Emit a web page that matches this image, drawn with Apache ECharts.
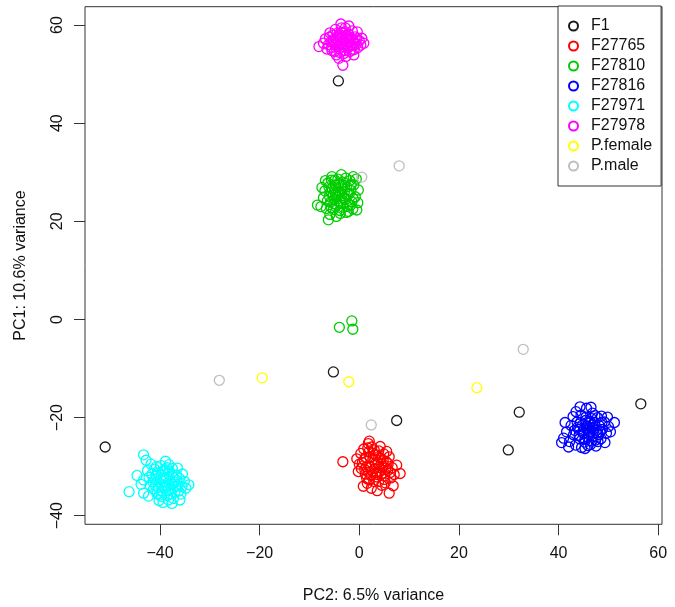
<!DOCTYPE html>
<html>
<head>
<meta charset="utf-8">
<script src="https://cdn.jsdelivr.net/npm/echarts@6/dist/echarts.min.js"></script>
<style>
html,body{margin:0;padding:0;background:#fff;}
#chart{width:675px;height:607px;}
</style>
</head>
<body>
<div id="chart"></div>
<script>
// ---- data (PC2 = x, PC1 = y) ----
const groups = ['F1','F27765','F27810','F27816','F27971','F27978','P.female','P.male'];
const xTicks = [-40,-20,0,20,40,60];
const yTicks = [-40,-20,0,20,40,60];
const xTitle = 'PC2: 6.5% variance';
const yTitle = 'PC1: 10.6% variance';

const F1 = [[-4.2,48.6],[-51.0,-26.0],[-5.2,-10.7],[7.5,-20.6],[32.1,-18.9],[29.9,-26.6],[56.5,-17.2]];

const F27765 = [[-3.3,-29.0],[1.8,-25.3],[6.0,-35.4],[8.2,-31.4],[7.5,-29.7],[-0.2,-31.0],[1.5,-32.4],[5.2,-33.3],
[0.3,-27.3],[0.6,-29.2],[0.9,-26.4],[1.1,-30.6],[1.3,-28.1],[1.6,-33.4],[1.9,-27.0],[2.1,-29.9],[2.3,-31.8],
[2.5,-26.0],[2.7,-28.6],[2.9,-33.0],[3.1,-30.4],[3.3,-27.6],[3.5,-32.1],[3.7,-29.2],[3.9,-26.8],[4.1,-31.0],
[4.3,-28.3],[4.5,-33.8],[4.7,-30.0],[4.9,-27.4],[5.1,-31.9],[5.4,-29.0],[5.7,-30.8],[6.0,-28.0],[6.3,-32.3],
[6.6,-30.2],[7.0,-31.6],[0.0,-29.5],[-0.5,-28.4],[2.4,-34.4],[3.6,-34.9],[4.2,-25.9],[2.0,-24.8],[3.0,-26.6],
[5.5,-26.9],[0.8,-34.0],[6.8,-33.9],[1.2,-31.5],[3.4,-31.2],[4.4,-29.5],
[1.0,-28.6],[1.4,-30.0],[1.8,-31.1],[2.2,-28.2],[2.6,-30.9],[2.8,-27.3],[3.2,-29.4],[3.6,-31.6],[3.8,-28.0],
[4.0,-30.2],[4.6,-31.4],[4.8,-28.8],[5.3,-30.3],[5.8,-29.4],[2.0,-32.7],[3.9,-33.0],[1.7,-26.2],[0.4,-30.4],
[6.2,-31.2],[5.0,-32.6]];

const F27810 = [[-8.4,23.3],[-6.2,20.3],[-0.2,26.4],[-0.5,22.3],[-5.5,29.1],[-1.2,29.1],[-7.7,23.0],[-7.2,24.8],
[-6.9,26.2],[-6.6,22.6],[-6.3,27.8],[-6.0,25.1],[-5.8,23.9],[-5.6,28.4],[-5.4,26.6],[-5.2,22.4],[-5.0,24.5],
[-4.8,27.4],[-4.7,25.6],[-4.5,23.3],[-4.3,28.6],[-4.2,26.2],[-4.0,24.1],[-3.8,21.6],[-3.7,27.2],[-3.5,25.2],
[-3.3,22.9],[-3.2,28.0],[-3.0,26.0],[-2.8,24.4],[-2.6,21.8],[-2.5,27.0],[-2.3,25.5],[-2.1,23.4],[-1.9,28.3],
[-1.7,26.3],[-1.5,24.0],[-1.3,22.5],[-1.1,27.4],[-0.8,25.0],[-0.6,28.6],[-6.8,28.3],[-5.9,21.4],[-4.6,21.0],
[-2.2,22.0],[-7.5,26.9],[-3.6,29.5],[-0.3,23.8],[-5.3,25.4],[-3.9,25.9],
[-6.4,24.2],[-5.7,26.0],[-5.1,23.6],[-4.9,28.4],[-4.4,25.0],[-4.1,27.6],[-3.6,23.8],[-3.4,26.6],[-3.1,24.8],
[-2.7,28.8],[-2.4,23.0],[-2.0,25.6],[-1.6,27.5],[-1.2,24.6],[-5.6,22.8],[-6.1,27.0],[-3.9,22.2],[-2.9,27.3],
[-4.9,26.0],[-1.8,23.2],
[-1.5,-0.3],[-1.3,-2.0],[-4.0,-1.6]];

const F27816 = [[45.6,-18.1],[51.2,-21.0],[40.6,-25.1],[41.6,-22.9],[44.6,-26.1],[49.3,-25.1],[48.6,-19.7],[46.8,-19.1],
[42.9,-19.8],[41.0,-24.2],[42.2,-24.9],[42.5,-21.6],[43.0,-23.5],[43.4,-25.6],[43.7,-20.9],[44.0,-22.4],[44.2,-24.3],
[44.5,-19.5],[44.8,-21.5],[45.0,-23.2],[45.2,-25.0],[45.4,-20.6],[45.6,-22.2],[45.8,-24.0],[46.0,-21.2],[46.2,-23.0],
[46.4,-25.5],[46.6,-20.2],[46.8,-22.0],[47.0,-23.8],[47.2,-21.0],[47.4,-24.6],[47.6,-22.6],[47.8,-20.0],[48.0,-23.5],
[48.2,-21.7],[48.5,-24.3],[48.8,-22.4],[49.2,-20.9],[49.6,-23.2],[50.0,-21.8],[50.4,-22.9],[43.5,-18.8],[42.0,-26.0],
[45.3,-26.3],[47.5,-25.8],[44.3,-17.8],[41.3,-21.0],[49.8,-19.9],[46.5,-17.9],
[44.4,-21.0],[44.9,-22.8],[45.3,-24.4],[45.7,-21.7],[46.1,-23.5],[46.3,-20.8],[46.7,-24.8],[47.1,-22.3],[47.3,-19.6],
[47.7,-23.1],[44.1,-23.6],[43.8,-22.0],[45.5,-19.9],[46.9,-21.5],[48.3,-22.9],[47.9,-24.9],[45.9,-25.7],[43.2,-22.6],
[48.7,-21.0],[46.0,-22.6]];

const F27971 = [[-43.3,-27.6],[-42.8,-28.7],[-46.2,-35.1],[-43.3,-35.4],[-43.3,-32.7],[-34.2,-33.7],[-37.6,-37.5],[-36.0,-36.8],
[-40.7,-30.0],[-35.6,-34.1],[-38.3,-36.8],[-42.5,-30.8],[-42.0,-33.8],[-41.6,-31.5],[-41.3,-34.6],[-41.0,-32.6],[-40.6,-35.5],
[-40.3,-31.2],[-40.0,-33.4],[-39.8,-29.8],[-39.6,-34.9],[-39.3,-32.1],[-39.0,-30.6],[-38.8,-33.7],[-38.5,-35.9],[-38.3,-31.4],
[-38.0,-32.9],[-37.8,-34.6],[-37.5,-30.4],[-37.2,-33.1],[-37.0,-35.2],[-36.7,-31.7],[-36.4,-33.9],[-36.1,-32.4],[-35.8,-35.6],
[-35.5,-31.5],[-35.1,-33.0],[-34.8,-34.4],[-43.8,-33.6],[-42.3,-36.0],[-40.2,-36.9],[-39.4,-37.3],[-36.5,-30.3],[-41.8,-29.5],
[-44.6,-31.8],[-38.9,-28.9],[-37.3,-36.5],[-40.9,-33.9],[-39.1,-34.4],[-38.2,-29.6],
[-41.4,-33.1],[-40.8,-31.8],[-40.4,-34.2],[-39.9,-32.6],[-39.5,-31.0],[-39.2,-33.9],[-38.7,-32.4],[-38.4,-34.8],
[-38.1,-31.0],[-37.7,-33.6],[-37.4,-32.0],[-36.9,-34.0],[-36.6,-32.8],[-40.1,-35.8],[-38.6,-30.2],[-42.2,-32.2],
[-41.1,-30.5],[-37.9,-35.5],[-36.3,-35.0],[-39.7,-36.1]];

const F27978 = [[-8.1,55.6],[-3.7,60.2],[-3.3,51.8],[0.5,57.3],[-6.8,57.2],[-6.2,56.0],[-5.9,58.4],[-5.5,54.8],[-5.2,57.0],
[-4.9,55.9],[-4.8,59.1],[-4.6,53.9],[-4.4,56.8],[-4.2,57.9],[-4.0,55.2],[-3.9,54.4],[-3.7,56.3],[-3.5,58.5],[-3.4,57.4],
[-3.2,55.6],[-3.0,56.9],[-2.9,54.8],[-2.8,59.4],[-2.6,56.1],[-2.5,57.8],[-2.3,55.3],[-2.2,58.2],[-2.0,56.6],[-1.9,54.6],
[-1.7,57.3],[-1.5,55.8],[-1.4,58.8],[-1.2,56.4],[-1.0,55.0],[-0.8,57.6],[-0.6,56.1],[-0.3,55.4],[0.0,56.8],[0.3,55.9],
[-5.6,55.4],[-6.5,55.1],[-4.1,53.2],[-2.7,53.6],[-1.1,53.9],[-3.6,59.4],[-2.1,59.8],[-0.4,58.6],[0.9,56.3],[-7.2,56.3],[-4.5,58.3],
[-5.7,56.6],[-5.3,58.0],[-5.0,54.6],[-4.6,57.4],[-4.3,55.6],[-3.8,58.0],[-3.5,56.0],[-3.1,54.2],[-2.7,57.2],[-2.4,55.8],
[-2.1,57.6],[-1.8,56.0],[-1.3,57.1],[-0.9,56.3],[-0.5,57.2],[-3.9,57.0],[-2.9,58.6],[-4.7,56.2],[-1.6,54.9],[-6.0,57.5]];

const Pfemale = [[-19.5,-11.9],[-2.1,-12.7],[23.6,-13.9]];
const Pmale = [[0.5,29.0],[8.0,31.3],[32.9,-6.1],[-28.1,-12.4],[2.4,-21.5]];

const groupData = [F1, F27765, F27810, F27816, F27971, F27978, Pfemale, Pmale];
const colors = ['#1a1a1a','#ff0000','#00cd00','#0000ff','#00ffff','#ff00ff','#ffff00','#bebebe'];

const FONT = '"Liberation Sans", Arial, Helvetica, sans-serif';
const fmt = v => v < 0 ? '\u2212' + Math.abs(v) : String(v);

const chart = echarts.init(document.getElementById('chart'), null, {renderer: 'canvas'});
const series = groups.map((g, i) => ({
  name: g,
  type: 'scatter',
  data: groupData[i],
  symbol: 'circle',
  symbolSize: 10,
  itemStyle: {color: 'rgba(0,0,0,0)', borderColor: colors[i], borderWidth: 1.3, opacity: 1},
  emphasis: {disabled: true},
  silent: true,
  animation: false
}));

chart.setOption({
  animation: false,
  backgroundColor: '#fff',
  textStyle: {fontFamily: FONT},
  grid: {left: 85, right: 13, top: 6.7, bottom: 82.7, show: true, borderColor: '#333', borderWidth: 1,
         backgroundColor: 'rgba(0,0,0,0)', containLabel: false, outerBoundsMode: 'none'},
  xAxis: {
    type: 'value', min: -55.05, max: 60.75,
    name: xTitle, nameLocation: 'middle', nameGap: 63,
    nameTextStyle: {fontSize: 16, color: '#111', fontFamily: FONT},
    axisLine: {show: false, onZero: false},
    axisTick: {show: true, length: 11, customValues: xTicks, lineStyle: {color: '#333', width: 1}},
    axisLabel: {customValues: xTicks, formatter: fmt, margin: 21, fontSize: 16, color: '#111', fontFamily: FONT},
    splitLine: {show: false}
  },
  yAxis: {
    type: 'value', min: -41.75, max: 63.73,
    name: yTitle, nameLocation: 'middle', nameGap: 56, nameRotate: 90,
    nameTextStyle: {fontSize: 16, color: '#111', fontFamily: FONT},
    axisLine: {show: false, onZero: false},
    axisTick: {show: true, length: 11, customValues: yTicks, lineStyle: {color: '#333', width: 1}},
    axisLabel: {customValues: yTicks, formatter: fmt, margin: 19, rotate: 90, fontSize: 16, color: '#111', fontFamily: FONT},
    splitLine: {show: false}
  },
  legend: {
    data: groups,
    orient: 'vertical',
    left: 558, top: 6,
    padding: [12, 9, 12, 10],
    itemWidth: 9, itemHeight: 9, itemGap: 4,
    backgroundColor: '#fff', borderColor: '#333', borderWidth: 1, borderRadius: 0,
    icon: 'circle',
    itemStyle: {borderWidth: 2},
    selectedMode: false,
    textStyle: {fontSize: 16, lineHeight: 16, color: '#111', fontFamily: FONT, padding: [0,0,0,8]}
  },
  series: series
});
</script>
</body>
</html>
